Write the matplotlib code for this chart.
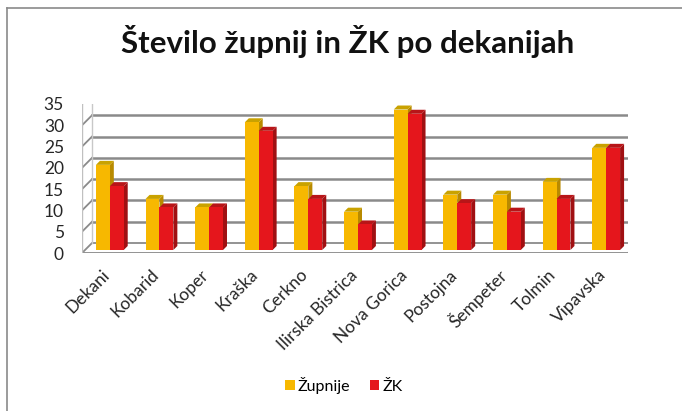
import matplotlib
matplotlib.use("Agg")
import matplotlib.pyplot as plt
from matplotlib.patches import Polygon, Patch
from matplotlib.lines import Line2D
from matplotlib.transforms import IdentityTransform
import numpy as np

categories = ["Dekani", "Kobarid", "Koper", "Kraška", "Cerkno", "Ilirska Bistrica",
              "Nova Gorica", "Postojna", "Šempeter", "Tolmin", "Vipavska"]
zupnije = [20, 12, 10, 30, 15, 9, 33, 13, 13, 16, 24]
zk = [15, 10, 10, 28, 12, 6, 32, 11, 9, 12, 24]
yticks = [0, 5, 10, 15, 20, 25, 30, 35]
title = "Število župnij in ŽK po dekanijah"
series_names = ["Župnije", "ŽK"]

FONT = ["Lato", "DejaVu Sans"]
plt.rcParams['font.family'] = FONT

W, H = 682, 411
fig = plt.figure(figsize=(W / 100, H / 100), dpi=100)
fig.patch.set_facecolor("white")

# axes = front plane of the 3D box
ax = fig.add_axes([82 / W, (H - 253) / H, 546 / W, 149 / H])
ax.set_xlim(-0.5, len(categories) - 0.5)
ax.set_ylim(0, 35)
ax.patch.set_alpha(0)
for s in ax.spines.values():
    s.set_visible(False)

DX, DY = 10, 10  # depth offset of the back wall in pixels
IT = IdentityTransform()


def P(x, y, d):
    px, py = ax.transData.transform((x, y))
    return (px + d * DX, py + d * DY)


grid_c = "#8a8a8a"
x0, x1 = ax.get_xlim()
# floor
floor = Polygon([P(x0, 0, 0), P(x1, 0, 0), P(x1, 0, 1), P(x0, 0, 1)], closed=True,
                facecolor="white", edgecolor=grid_c, lw=1.3, transform=IT, zorder=1)
ax.add_artist(floor)
# back-wall gridlines + left-wall slanted lines
for v in yticks:
    if v == 0:
        continue
    a, b = P(x0, v, 1), P(x1, v, 1)
    ax.add_artist(Line2D([a[0], b[0]], [a[1], b[1]], color=grid_c, lw=1.8, transform=IT, zorder=1))
    c = P(x0, v, 0)
    ax.add_artist(Line2D([c[0], a[0]], [c[1], a[1]], color=grid_c, lw=1.3, transform=IT, zorder=1))
# left wall edges
a, b = P(x0, 0, 0), P(x0, 35, 0)
ax.add_artist(Line2D([a[0], b[0]], [a[1], b[1]], color="#c0c0c0", lw=1.0, transform=IT, zorder=1))
a, b = P(x0, 0, 1), P(x0, 35, 1)
ax.add_artist(Line2D([a[0], b[0]], [a[1], b[1]], color="#c8c8c8", lw=1.0, transform=IT, zorder=1))

colors = [("#F7B800", "#B88A00", "#C9A200"), ("#E5161C", "#A01012", "#B81518")]
bw = 0.28
D0, D1 = 0.3, 0.7
for i, (v1, v2) in enumerate(zip(zupnije, zk)):
    for j, v in enumerate((v1, v2)):
        face, side, top = colors[j]
        xl = i - bw + j * bw
        xr = xl + bw
        front = [P(xl, 0, D0), P(xr, 0, D0), P(xr, v, D0), P(xl, v, D0)]
        sidep = [P(xr, 0, D0), P(xr, 0, D1), P(xr, v, D1), P(xr, v, D0)]
        topp = [P(xl, v, D0), P(xr, v, D0), P(xr, v, D1), P(xl, v, D1)]
        z = 3 + i * 2 + j
        ax.add_artist(Polygon(sidep, closed=True, facecolor=side, edgecolor="none", transform=IT, zorder=z))
        ax.add_artist(Polygon(topp, closed=True, facecolor=top, edgecolor="none", transform=IT, zorder=z))
        ax.add_artist(Polygon(front, closed=True, facecolor=face, edgecolor="none", transform=IT, zorder=z + 0.5))

ax.set_yticks(yticks)
ax.set_yticklabels([str(t) for t in yticks], fontsize=12.5, color="#262626")
ax.tick_params(axis="y", length=0, pad=13)
ax.set_xticks(np.arange(len(categories)))
ax.set_xticklabels(categories, rotation=45, ha="right", va="center",
                   rotation_mode="anchor", fontsize=12.5, color="#262626")
ax.tick_params(axis="x", length=0, pad=14)

fig.text(348 / W, 1 - 42 / H, title, ha="center", va="center", fontsize=22.5,
         fontweight="bold", color="#111111")

handles = [Patch(facecolor=colors[0][0]), Patch(facecolor=colors[1][0])]
fig.legend(handles, series_names, loc="center", bbox_to_anchor=(344 / W, 1 - 385 / H),
           ncol=2, frameon=False, fontsize=11.5, handlelength=0.6, handleheight=0.6,
           handletextpad=0.2, columnspacing=1.2)

# figure frame (top and left visible)
fig.add_artist(Line2D([7 / W, 1], [1 - 8 / H, 1 - 8 / H], color="#8a8a8a", lw=1.2, transform=fig.transFigure))
fig.add_artist(Line2D([7 / W, 7 / W], [0, 1 - 8 / H], color="#8a8a8a", lw=1.2, transform=fig.transFigure))

fig.savefig("out.png", dpi=100)
